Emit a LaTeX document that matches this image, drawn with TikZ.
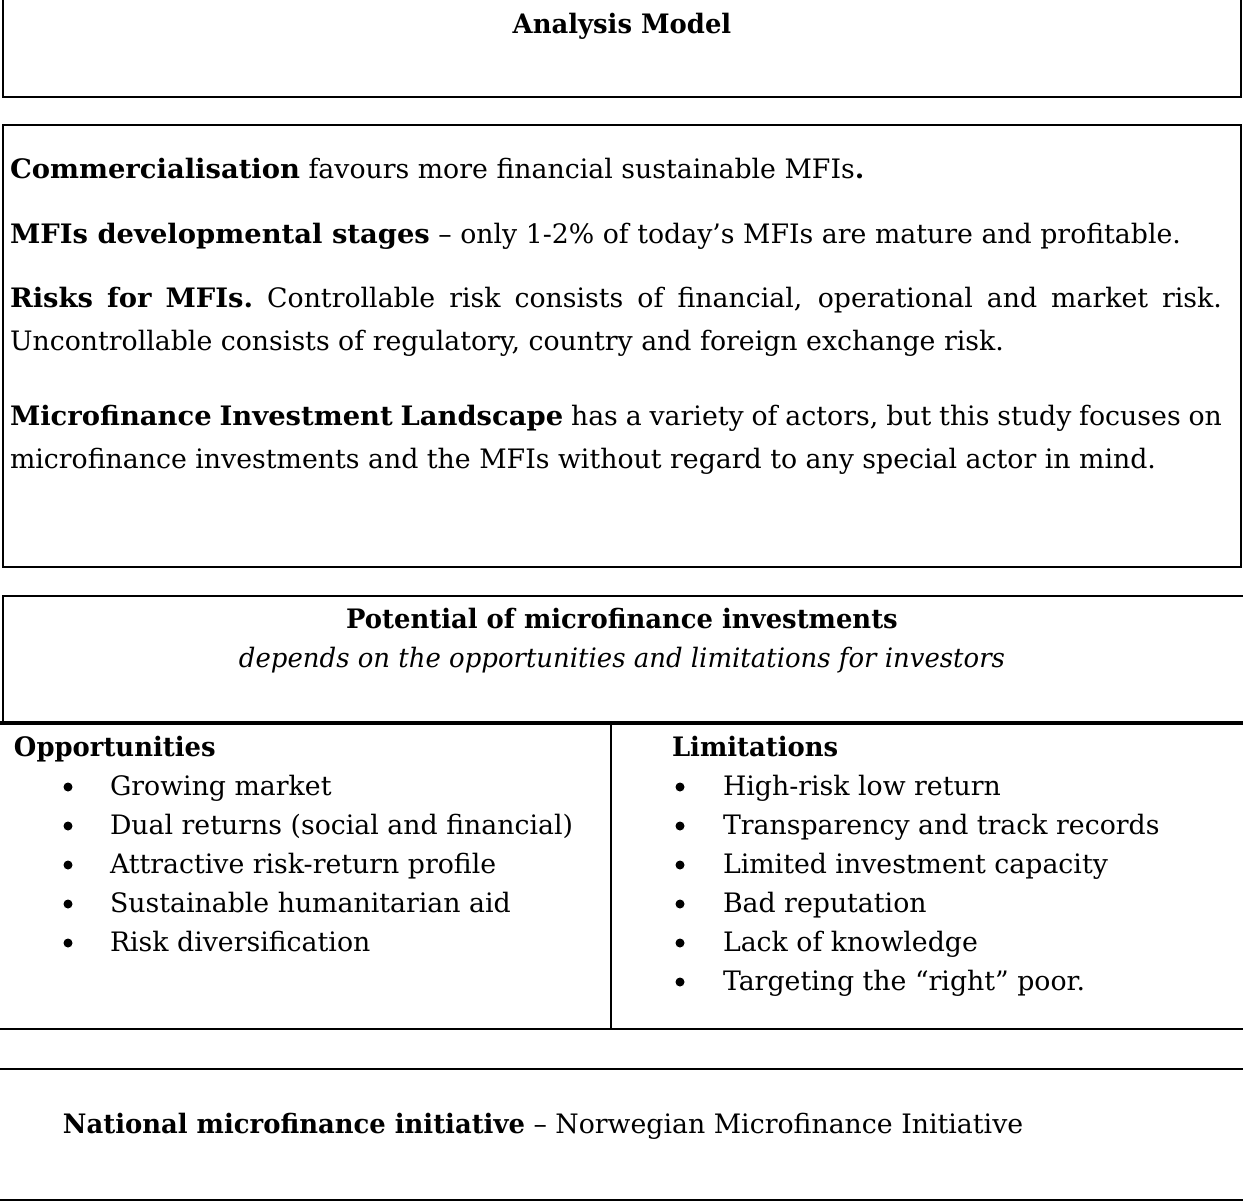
\documentclass[tikz,border=0pt]{standalone}
\usepackage{fontspec}
\usepackage{graphicx}
\setmainfont{DejaVu Serif}
\newlength\wreg
\newlength\wbold
\newlength\wital
\begin{document}
\settowidth\wreg{\fontsize{20pt}{24pt}\selectfont microfinance investments and the MFIs without regard to any special actor in mind.}%
\settowidth\wbold{\fontsize{20pt}{24pt}\selectfont\bfseries National microfinance initiative}%
\settowidth\wital{\fontsize{20pt}{24pt}\selectfont\itshape depends on the opportunities and limitations for investors}%
\pgfmathsetmacro\fs{20*(1146/\wreg)}%
\pgfmathsetmacro\bsc{(462/\wbold)*(20/\fs)}%
\pgfmathsetmacro\isc{(766/\wital)*(20/\fs)}%
\pgfmathsetmacro\bscb{1.06*\bsc}%
\def\fsz{\fontsize{\fs pt}{\fs pt}\selectfont}%
\newcommand\B[1]{\scalebox{\bsc}[1]{\bfseries #1}}%
\newcommand\BB[1]{\scalebox{\bscb}[1]{\bfseries #1}}%
\newcommand\I[1]{\scalebox{\isc}[1]{\itshape #1}}%
\begin{tikzpicture}[x=1pt,y=-1pt,
  bx/.style={line width=2pt},
  thickrule/.style={line width=4pt},
  divider/.style={line width=1.5pt},
  txt/.style={inner sep=0pt,outer sep=0pt,anchor=base west,font=\fsz},
  ctxt/.style={txt,anchor=base},
  bul/.style={circle,fill=black,inner sep=0pt,minimum size=9pt}]
\useasboundingbox (0,0) rectangle (1243,1202);
\clip (0,0) rectangle (1243,1202);
% box 1
\draw[bx] (3,-5) rectangle (1241,97);
\node[ctxt] (am) at (622,33) {\B{Analysis Model}};
% box 2
\draw[bx] (3,125) rectangle (1241,567);
\node[txt] (p1) at (10,178) {\BB{Commercialisation} favours more financial sustainable MFIs\BB{.}};
\node[txt] (p2) at (10,243) {\BB{MFIs developmental stages} – only 1-2\% of today’s MFIs are mature and profitable.};
\node[txt] (p3a) at (10,307) {\makebox[1212pt][s]{\BB{Risks} \BB{for} \BB{MFIs.} Controllable risk consists of financial, operational and market risk.}};
\node[txt] (p3b) at (10,350) {Uncontrollable consists of regulatory, country and foreign exchange risk.};
\node[txt] (p4a) at (10,425) {\makebox[1212pt][s]{\BB{Microfinance} \BB{Investment} \BB{Landscape} has a variety of actors, but this study focuses on}};
\node[txt] (p4b) at (10,468) {microfinance investments and the MFIs without regard to any special actor in mind.};
% box 3
\draw[bx] (3,723) -- (3,596) -- (1250,596);
\draw[thickrule] (-5,723) -- (1250,723);
\node[ctxt] (pt) at (622,628) {\B{Potential of microfinance investments}};
\node[ctxt] (pd) at (622,667) {\I{depends on the opportunities and limitations for investors}};
% table
\draw[divider] (611,725) -- (611,1029);
\draw[bx] (-5,1029) -- (1250,1029);
\node[txt] (oh) at (14,756) {\B{Opportunities}};
\node[txt] (lh) at (672,756) {\B{Limitations}};
\foreach \t [count=\i] in {{Growing market},{Dual returns (social and financial)},{Attractive risk-return profile},{Sustainable humanitarian aid},{Risk diversification}}{
  \node[bul] (ob\i) at (68,{748+39*\i}) {};
  \node[txt] (o\i) at (110,{756+39*\i}) {\t};
}
\foreach \t [count=\i] in {{High-risk low return},{Transparency and track records},{Limited investment capacity},{Bad reputation},{Lack of knowledge},{Targeting the “right” poor.}}{
  \node[bul] (lb\i) at (680,{748+39*\i}) {};
  \node[txt] (l\i) at (723,{756+39*\i}) {\t};
}
% national
\draw[bx] (-5,1069) -- (1250,1069);
\draw[bx] (-5,1200) -- (1250,1200);
\node[txt] (nat) at (63,1133) {\B{National microfinance initiative} – Norwegian Microfinance Initiative};
\end{tikzpicture}
\end{document}
